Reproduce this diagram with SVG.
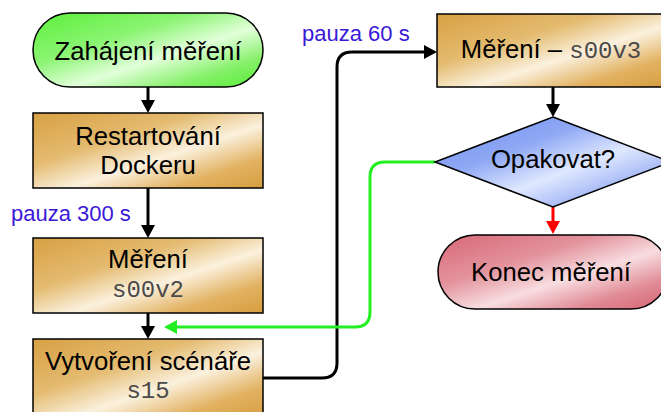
<svg xmlns="http://www.w3.org/2000/svg" width="661" height="412" viewBox="0 0 661 412">
<defs>
<linearGradient id="gOr" x1="0" y1="0" x2="1" y2="1">
<stop offset="0" stop-color="#d8a043"/>
<stop offset="0.35" stop-color="#e4bb70"/>
<stop offset="0.58" stop-color="#fbf1de"/>
<stop offset="0.8" stop-color="#e2b262"/>
<stop offset="1" stop-color="#d69d3e"/>
</linearGradient>
<linearGradient id="gGr" x1="0" y1="0" x2="1" y2="1">
<stop offset="0" stop-color="#5cf03a"/>
<stop offset="0.35" stop-color="#8cf474"/>
<stop offset="0.58" stop-color="#e2ffda"/>
<stop offset="0.8" stop-color="#86f06a"/>
<stop offset="1" stop-color="#56ec34"/>
</linearGradient>
<linearGradient id="gBl" x1="0" y1="0" x2="1" y2="1">
<stop offset="0" stop-color="#6a8cf0"/>
<stop offset="0.35" stop-color="#90a9f4"/>
<stop offset="0.58" stop-color="#e0e8ff"/>
<stop offset="0.8" stop-color="#9ab0f4"/>
<stop offset="1" stop-color="#6a8af0"/>
</linearGradient>
<linearGradient id="gRd" x1="0" y1="0" x2="1" y2="1">
<stop offset="0" stop-color="#d86878"/>
<stop offset="0.35" stop-color="#e3939d"/>
<stop offset="0.58" stop-color="#f8dde0"/>
<stop offset="0.8" stop-color="#e08a95"/>
<stop offset="1" stop-color="#d66474"/>
</linearGradient>
<marker id="aK" markerUnits="userSpaceOnUse" markerWidth="14" markerHeight="14" refX="0" refY="7" orient="auto">
<path d="M0,0 L13,7 L0,14 z" fill="#000"/>
</marker>
<marker id="aG" markerUnits="userSpaceOnUse" markerWidth="14" markerHeight="14" refX="0" refY="7" orient="auto">
<path d="M0,0 L13,7 L0,14 z" fill="#22ee22"/>
</marker>
<marker id="aR" markerUnits="userSpaceOnUse" markerWidth="14" markerHeight="14" refX="0" refY="7" orient="auto">
<path d="M0,0 L13,7 L0,14 z" fill="#ff0000"/>
</marker>
</defs>
<style>
.n{stroke:#000;stroke-width:1.5}
.t{font-family:"Liberation Sans",Arial,sans-serif;font-size:25.7px;fill:#000;text-anchor:middle}
.m{font-family:"Liberation Mono","Courier New",monospace;font-size:24px;fill:#4a4a4a}
.c{fill:none;stroke-width:3}
.l{font-family:"Liberation Sans",Arial,sans-serif;font-size:22px;fill:#3a18d8}
</style>
<rect width="661" height="412" fill="#fff"/>
<g id="connectors">
<path class="c" stroke="#000" d="M148 87 V100" marker-end="url(#aK)"/>
<path class="c" stroke="#000" d="M148 188 V225" marker-end="url(#aK)"/>
<path class="c" stroke="#000" d="M148 313 V326" marker-end="url(#aK)"/>
<path class="c" stroke="#000" d="M263 378 H322 Q337 378 337 363 V67 Q337 52 352 52 H424" marker-end="url(#aK)"/>
<path class="c" stroke="#000" d="M553 87 V104" marker-end="url(#aK)"/>
<path class="c" stroke="#ff0000" d="M553 207 V221" marker-end="url(#aR)"/>
<path class="c" stroke="#22ee22" d="M435 162 H385 Q370 162 370 177 V312 Q370 327 355 327 H177" marker-end="url(#aG)"/>
<text class="l" x="11" y="221">pauza 300 s</text>
<text class="l" x="302" y="41">pauza 60 s</text>
</g>
<g id="start">
<rect class="n" x="33" y="13" width="230" height="74" rx="37" fill="url(#gGr)"/>
<text class="t" x="148" y="60">Zahájení měření</text>
</g>
<g id="restart">
<rect class="n" x="33" y="113" width="230" height="75" fill="url(#gOr)"/>
<text class="t" x="148" y="145">Restartování</text>
<text class="t" x="148" y="174">Dockeru</text>
</g>
<g id="mereni2">
<rect class="n" x="33" y="238" width="230" height="75" fill="url(#gOr)"/>
<text class="t" x="148" y="268">Měření</text>
<text class="t m" x="148" y="297">s00v2</text>
</g>
<g id="scenar">
<rect class="n" x="33" y="339" width="230" height="80" fill="url(#gOr)"/>
<text class="t" x="148" y="370">Vytvoření scénáře</text>
<text class="t m" x="148" y="398">s15</text>
</g>
<g id="mereni3">
<rect class="n" x="437" y="14" width="230" height="73" fill="url(#gOr)"/>
<text class="t" x="551" y="58">Měření – <tspan class="m">s00v3</tspan></text>
</g>
<g id="opakovat">
<polygon class="n" points="553,117 671,162 553,207 435,162" fill="url(#gBl)"/>
<text class="t" x="553" y="168">Opakovat?</text>
</g>
<g id="konec">
<rect class="n" x="438" y="235" width="230" height="74" rx="37" fill="url(#gRd)"/>
<text class="t" x="551" y="281">Konec měření</text>
</g>
</svg>
